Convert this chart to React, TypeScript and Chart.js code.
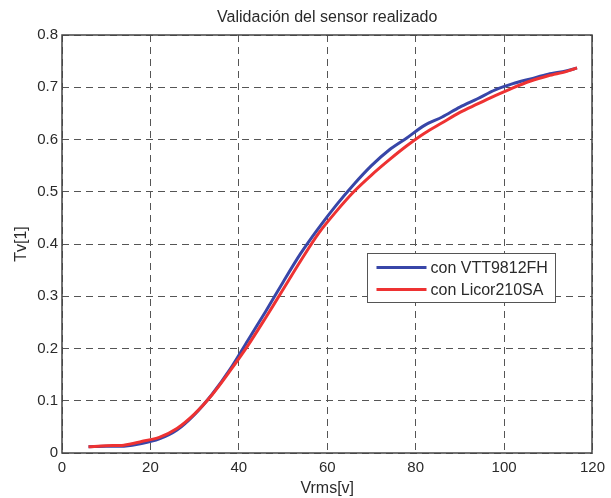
import React, { useEffect, useRef } from "react";
import { Chart, registerables } from "chart.js";

Chart.register(...registerables);

const chartTitle = "Validación del sensor realizado";
const xAxisTitle = "Vrms[v]";
const yAxisTitle = "Tv[1]";

const xValues = [6, 10, 14, 18, 22, 26, 30, 34, 38, 42, 46, 50, 54, 58, 62, 66, 70, 74, 78, 82, 86, 90, 94, 98, 102, 106, 110, 114, 116.5];
const vttValues = [0.012, 0.013, 0.013, 0.018, 0.027, 0.044, 0.074, 0.113, 0.16, 0.215, 0.27, 0.327, 0.382, 0.43, 0.474, 0.514, 0.55, 0.58, 0.603, 0.627, 0.643, 0.662, 0.678, 0.695, 0.707, 0.716, 0.725, 0.731, 0.737];
const licorValues = [0.012, 0.014, 0.015, 0.022, 0.03, 0.047, 0.075, 0.112, 0.157, 0.205, 0.258, 0.313, 0.368, 0.42, 0.462, 0.5, 0.532, 0.561, 0.588, 0.612, 0.632, 0.652, 0.668, 0.684, 0.699, 0.712, 0.722, 0.73, 0.737];

const seriesLabels = ["con VTT9812FH", "con Licor210SA"];
const seriesColors = ["#3846a8", "#ee3232"];

const xTicks = [0, 20, 40, 60, 80, 100, 120];
const yTicks = [0, 0.1, 0.2, 0.3, 0.4, 0.5, 0.6, 0.7, 0.8];

const FONT = "'Liberation Sans', Arial, Helvetica, sans-serif";
const TEXT = "#2a2a2a";
const GRID = "#555555";
const DASH = [7, 5];

export default function App() {
  const ref = useRef<HTMLCanvasElement | null>(null);

  useEffect(() => {
    const canvas = ref.current;
    if (!canvas) return;

    const framePlugin = {
      id: "frameAndLegend",
      afterDatasetsDraw(chart: any) {
        const { ctx, chartArea } = chart;
        const { left, top, right, bottom } = chartArea;
        ctx.save();
        ctx.strokeStyle = "#444444";
        ctx.lineWidth = 1.5;
        ctx.setLineDash([]);
        ctx.strokeRect(Math.round(left), Math.round(top), Math.round(right - left), Math.round(bottom - top));

        // legend box
        const xs = chart.scales.x;
        const ys = chart.scales.y;
        const bx = Math.round(xs.getPixelForValue(69.1)) + 0.5;
        const by = Math.round(ys.getPixelForValue(0.383)) + 0.5;
        const bw = 188;
        const bh = 49;
        ctx.fillStyle = "#ffffff";
        ctx.fillRect(bx, by, bw, bh);
        ctx.strokeStyle = "#555555";
        ctx.lineWidth = 1;
        ctx.strokeRect(bx, by, bw, bh);
        ctx.font = "16px " + FONT;
        ctx.textBaseline = "middle";
        ctx.textAlign = "left";
        [0, 1].forEach((i, k) => {
          const ds = chart.data.datasets[i];
          const ly = by + 14 + k * 22;
          ctx.strokeStyle = ds.borderColor;
          ctx.lineWidth = 3;
          ctx.beginPath();
          ctx.moveTo(bx + 9, ly);
          ctx.lineTo(bx + 59, ly);
          ctx.stroke();
          ctx.fillStyle = TEXT;
          ctx.fillText(ds.label, bx + 63, ly + 1);
        });
        ctx.restore();
      },
    };

    const chart = new Chart(canvas, {
      type: "line",
      data: {
        datasets: [
          {
            label: seriesLabels[0],
            data: xValues.map((x, i) => ({ x, y: vttValues[i] })),
            borderColor: seriesColors[0],
            backgroundColor: seriesColors[0],
            borderWidth: 3,
            pointRadius: 0,
            tension: 0.3,
            order: 1,
          },
          {
            label: seriesLabels[1],
            data: xValues.map((x, i) => ({ x, y: licorValues[i] })),
            borderColor: seriesColors[1],
            backgroundColor: seriesColors[1],
            borderWidth: 3,
            pointRadius: 0,
            tension: 0.3,
            order: 0,
          },
        ],
      },
      options: {
        animation: false,
        responsive: false,
        devicePixelRatio: 1,
        layout: { padding: { left: 0, right: 16, top: 0, bottom: 0 } },
        plugins: {
          legend: { display: false },
          tooltip: { enabled: false },
          title: {
            display: true,
            text: chartTitle,
            fullSize: false,
            color: TEXT,
            font: { family: FONT, size: 16, weight: "normal" },
            padding: { top: 8, bottom: 7.8 },
          },
        },
        scales: {
          x: {
            type: "linear",
            min: 0,
            max: 120,
            afterBuildTicks: (s: any) => {
              s.ticks = xTicks.map((v) => ({ value: v }));
            },
            afterFit: (s: any) => {
              s.height = 45;
            },
            border: { display: false, dash: DASH },
            grid: { color: GRID, lineWidth: 1, drawTicks: false },
            ticks: {
              color: TEXT,
              font: { family: FONT, size: 15 },
              padding: 6,
              maxRotation: 0,
            },
            title: {
              display: true,
              text: xAxisTitle,
              color: TEXT,
              font: { family: FONT, size: 16 },
              padding: { top: 0, bottom: 0 },
            },
          },
          y: {
            type: "linear",
            min: 0,
            max: 0.8,
            afterBuildTicks: (s: any) => {
              s.ticks = yTicks.map((v) => ({ value: v }));
            },
            afterFit: (s: any) => {
              s.width = 62;
            },
            border: { display: false, dash: DASH },
            grid: { color: GRID, lineWidth: 1, drawTicks: false },
            ticks: {
              color: TEXT,
              font: { family: FONT, size: 15 },
              padding: 4,
              callback: (v: any) => (v === 0 ? "0" : Number(v).toFixed(1)),
            },
            title: {
              display: true,
              text: yAxisTitle,
              color: TEXT,
              font: { family: FONT, size: 16 },
              padding: { top: 12, bottom: 0 },
            },
          },
        },
      },
      plugins: [framePlugin],
    });

    return () => chart.destroy();
  }, []);

  return (
    <div style={{ position: "fixed", left: 0, top: 0, width: 611, height: 498, background: "#ffffff" }}>
      <canvas ref={ref} width={611} height={498} />
    </div>
  );
}
